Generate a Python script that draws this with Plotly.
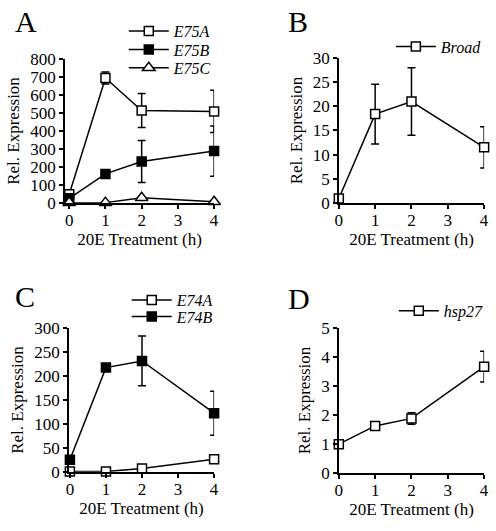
import plotly.graph_objects as go

W, H = 496, 531
hours = [0, 1, 2, 4]

# Panel A
e75a = [48, 695, 514, 509]
e75a_err = [15, 33, 94, 118]
e75b = [25, 161, 230, 288]
e75b_err = [6, 10, 117, 140]
e75c = [1, 1, 28, 6]
e75c_err = [1, 1, 4, 2]
# Panel B
broad = [0.9, 18.4, 21.0, 11.5]
broad_err = [0.3, 6.2, 7.0, 4.3]
# Panel C
e74a = [0.5, 0.5, 6.7, 26.5]
e74a_err = [0.5, 0.5, 1.5, 5]
e74b = [25.4, 217.6, 231.5, 122.5]
e74b_err = [7, 4, 52, 46]
# Panel D
hsp27 = [0.99, 1.62, 1.88, 3.67]
hsp27_err = [0.1, 0.08, 0.2, 0.53]

FONT = "Liberation Serif"

def px2x(p):
    return p / W

def px2y(p):
    return 1 - p / H

fig = go.Figure()

def add(x, y, err, name, symbol, fill, xa, ya, legend):
    fig.add_trace(go.Scatter(
        x=x, y=y, name=name, mode="lines+markers",
        line=dict(color="black", width=1.5),
        marker=dict(symbol=symbol, size=9 if "triangle" not in symbol else 11,
                    color=fill, line=dict(color="black", width=1.5)),
        error_y=dict(type="data", array=err, visible=True, color="black",
                     thickness=1.5, width=4),
        xaxis=xa, yaxis=ya, legend=legend, cliponaxis=False, showlegend=True,
    ))

add(hours, e75a, e75a_err, "<i>E75A</i>", "square", "white", "x", "y", "legend")
add(hours, e75b, e75b_err, "<i>E75B</i>", "square", "black", "x", "y", "legend5")
add(hours, e75c, e75c_err, "<i>E75C</i>", "triangle-up", "white", "x", "y", "legend6")
add(hours, broad, broad_err, "<i>Broad</i>", "square", "white", "x2", "y2", "legend2")
add(hours, e74a, e74a_err, "<i>E74A</i>", "square", "white", "x3", "y3", "legend3")
add(hours, e74b, e74b_err, "<i>E74B</i>", "square", "black", "x3", "y3", "legend7")
add(hours, hsp27, hsp27_err, "<i>hsp27</i>", "square", "white", "x4", "y4", "legend4")

axis_common = dict(showline=True, linecolor="black", linewidth=1.5, ticks="outside",
                   ticklen=4, tickwidth=1.5, tickcolor="black", showgrid=False,
                   zeroline=False, tickfont=dict(family=FONT, size=17, color="black"))

xt = dict(text="20E Treatment (h)", font=dict(family=FONT, size=17, color="black"), standoff=0)
yt = dict(text="Rel. Expression", font=dict(family=FONT, size=17, color="black"), standoff=6)

panels = [
    ("xaxis", "yaxis", (62, 214), 52, 201, [-0.12, 4], [0, 800], 100),
    ("xaxis2", "yaxis2", (341, 489), 51, 201, [0, 4], [0, 30], 5),
    ("xaxis3", "yaxis3", (66, 214), 331, 480, [-0.03, 4], [0, 300], 50),
    ("xaxis4", "yaxis4", (341, 489), 331, 481, [0, 4], [0, 5], 1),
]

layout = dict(width=W, height=H, margin=dict(l=0, r=0, t=0, b=0),
              plot_bgcolor="white", paper_bgcolor="white", showlegend=True,
              font=dict(family=FONT, color="black"))

for i, (xk, yk, xpx, ytop, ybot, xr, yr, dt) in enumerate(panels):
    n = "" if i == 0 else str(i + 1)
    layout[xk] = dict(axis_common, domain=[px2x(xpx[0]), px2x(xpx[1])], range=xr,
                      tickmode="array", tickvals=[0, 1, 2, 3, 4], anchor="y" + n,
                      title=xt, ticklabelstandoff=-3)
    layout[yk] = dict(axis_common, domain=[px2y(ybot), px2y(ytop)], range=yr,
                      dtick=dt, tick0=0, anchor="x" + n, title=yt)

leg_common = dict(font=dict(family=FONT, size=16, color="black"), bgcolor="rgba(0,0,0,0)",
                  xanchor="left", yanchor="middle", itemwidth=40, borderwidth=0)
# one legend per entry so each row sits where it does in the figure
leg_pos = {"legend": (122, 23), "legend5": (122, 42), "legend6": (122, 61),
           "legend2": (394, 39), "legend3": (125, 302), "legend7": (125, 319),
           "legend4": (397, 313)}
for k, (x, y) in leg_pos.items():
    layout[k] = dict(leg_common, x=px2x(x), y=px2y(y), visible=True)

fig.update_layout(**layout)

letters = [("A", 22, 13), ("B", 299, 13), ("C", 21, 298), ("D", 300, 300)]
for t, x, y in letters:
    fig.add_annotation(text=t, x=px2x(x), y=px2y(y), xref="paper", yref="paper",
                       showarrow=False, xanchor="center", yanchor="middle",
                       font=dict(family=FONT, size=30, color="black"))

fig.write_html("out.html", config={"displayModeBar": False},
               post_script="document.body.style.margin='0';document.body.style.overflow='hidden';")
